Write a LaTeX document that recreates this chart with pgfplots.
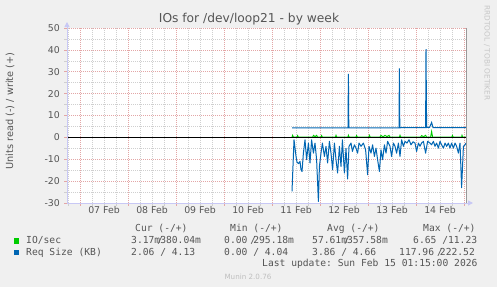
\documentclass[border=0pt]{standalone}
\usepackage{pgfplots}
\pgfplotsset{compat=1.18}
\usepackage{fontspec}
\setmainfont{DejaVu Sans}
\setmonofont{DejaVu Sans Mono}
\usetikzlibrary{arrows.meta}
\definecolor{bgc}{HTML}{F0F0F0}
\definecolor{gridred}{HTML}{E3A6A6}
\definecolor{gridgray}{HTML}{CFCFCF}
\definecolor{axblue}{HTML}{C8C8F5}
\definecolor{txt}{HTML}{555555}
\definecolor{iocol}{HTML}{00CC00}
\definecolor{reqcol}{HTML}{0066B3}

\pgfplotstableread{
h v
106.0 -24.7
107.0 -1.1
107.5 -4.8
108.0 -8.6
108.5 -11.3
109.3 -12.0
110.0 -11.0
110.5 -14.8
111.0 -15.6
111.7 -7.2
112.5 -1.1
113.3 -10.2
114.2 -2.6
115.0 -11.7
115.8 -1.1
116.7 -7.2
117.5 -2.6
118.3 -10.2
119.2 -29.3
119.7 -13.3
120.5 -7.2
121.2 -2.6
122.2 -8.7
123.0 -4.1
123.8 -11.7
124.7 -1.8
125.5 -7.2
126.3 -14.8
127.2 -2.6
128.0 -10.2
128.8 -16.3
129.7 -4.1
130.5 -13.3
131.2 -1.1
132.2 -16.3
133.0 -5.0
133.8 -19.0
134.5 -4.1
135.5 -2.6
136.2 -6.4
137.2 -3.4
138.0 -4.9
138.8 -7.2
139.5 -2.6
140.5 -4.1
141.7 -2.6
142.8 -5.7
143.8 -17.1
144.5 -4.1
145.5 -7.2
146.3 -3.4
147.2 -8.7
148.0 -4.9
148.8 -10.2
149.7 -15.6
150.5 -5.7
151.3 -10.2
152.2 -3.4
153.0 -7.2
153.8 -1.8
155.0 -4.1
155.8 -8.7
156.7 -2.6
157.5 -4.1
158.3 -7.2
159.2 -2.6
160.0 -8.7
160.8 -1.1
161.7 -4.1
162.5 -1.8
163.5 -2.6
164.5 -1.1
165.5 -3.4
166.5 -2.0
167.5 -2.6
168.3 -6.4
169.2 -2.6
170.0 -4.1
170.8 -2.6
171.7 -1.8
172.8 -7.2
173.8 -1.8
175.0 -2.6
175.8 -3.4
176.7 -1.8
177.5 -4.1
178.3 -2.6
179.2 -4.9
180.0 -1.8
180.8 -3.4
181.7 -4.9
182.5 -2.6
183.3 -4.1
184.2 -2.6
185.0 -4.9
185.8 -2.6
186.7 -4.9
187.5 -2.6
188.3 -4.1
189.2 -7.2
190.0 -2.6
190.8 -23.0
191.7 -4.1
192.5 -3.4
193.0 -2.6
}\reqread

\pgfplotstableread{
h v
106.0 4.4
134.0 4.4
134.2 29.0
134.4 4.4
159.5 4.4
159.7 31.6
159.9 4.4
172.8 4.5
173.0 40.3
173.3 4.5
174.8 4.6
175.8 6.8
176.5 4.5
193.0 4.5
}\reqwrite

\pgfplotstableread{
h v
106.0 0.1
106.3 0.9
106.7 0.1
108.5 0.1
108.8 0.8
109.2 0.1
116.3 0.1
116.8 0.9
117.5 0.3
118.3 0.9
118.8 0.1
120.5 0.1
120.8 0.8
121.2 0.1
127.7 0.1
128.0 0.9
128.4 0.1
134.0 0.1
134.2 0.9
134.6 0.1
138.0 0.1
138.3 0.8
138.7 0.1
144.4 0.1
144.7 0.9
145.1 0.1
150.0 0.1
150.5 0.9
151.5 0.2
152.5 0.9
153.5 0.3
154.5 0.9
155.0 0.1
159.7 0.1
160.0 0.9
160.4 0.1
170.3 0.1
170.8 0.8
171.8 0.3
172.8 0.9
173.3 0.1
175.3 0.1
175.8 2.6
176.3 0.1
186.0 0.1
186.2 0.8
186.6 0.1
190.8 0.1
191.0 0.9
191.4 0.1
193.0 0.1
}\iowrite

\begin{document}
\begin{tikzpicture}[x=1bp,y=1bp]
\fill[bgc] (-67,-84) rectangle (430,203);
\useasboundingbox (-67,-84) rectangle (430,203);
\begin{axis}[
  at={(0,0)}, anchor=south west,
  scale only axis, width=399bp, height=175bp,
  xmin=-6.5, xmax=193, ymin=-30, ymax=50,
  axis background/.style={fill=white},
  axis line style={draw=none},
  xtick={0,24,...,192}, xticklabels={},
  minor xtick={-6,6,12,18,30,36,42,54,60,66,78,84,90,102,108,114,126,132,138,150,156,162,174,180,186},
  extra x ticks={12,36,60,84,108,132,156,180},
  extra x tick labels={07 Feb,08 Feb,09 Feb,10 Feb,11 Feb,12 Feb,13 Feb,14 Feb},
  extra x tick style={grid=none, major tick length=0pt},
  ytick={-30,-20,...,50}, minor ytick={-25,-15,...,45},
  grid=both,
  major grid style={draw=gridred, dash pattern=on 1bp off 1bp, line width=0.6bp},
  minor grid style={draw=gridgray, dash pattern=on 1bp off 1bp, line width=0.6bp},
  major tick style={draw=gridred, line width=0.6bp},
  minor tick style={draw=gridgray, line width=0.6bp},
  tick align=outside, major tick length=2.5bp, minor tick length=2.5bp,
  xtick pos=bottom, ytick pos=left,
  tick label style={font=\fontsize{9.4}{10}\selectfont, text=txt},
  xticklabel style={anchor=base, yshift=-10.5bp},
  yticklabel style={anchor=east, inner sep=0pt, xshift=-4.5bp},
  /pgf/number format/assume math mode=true,
]
\addplot[iocol, line width=1bp] table[x=h,y=v] {\iowrite};
\addplot[black, line width=1bp] coordinates {(-6.5,0) (193,0)};
\addplot[reqcol, line width=1bp, line join=round] table[x=h,y=v] {\reqread};
\addplot[reqcol, line width=1bp] table[x=h,y=v] {\reqwrite};
\end{axis}
% axis lines
\draw[axblue, line width=1bp, -{Triangle[length=5bp,width=5bp]}] (0,0) -- (406,0);
\draw[axblue, line width=1bp, -{Triangle[length=5bp,width=5bp]}] (0,0) -- (0,181);
\draw[gray!80, line width=0.8bp] (399,0) -- (399,175);
% title and labels
\node[font=\fontsize{12.3}{14}\selectfont, text=txt] at (182,184) {IOs for /dev/loop21 - by week};
\node[rotate=90, font=\fontsize{9.8}{11}\selectfont, text=txt] at (-57,92) {Units read (-) / write (+)};
\node[rotate=-90, font=\fontsize{7.4}{8}\selectfont, text=black!22] at (420,150) {RRDTOOL / TOBI OETIKER};
% legend
\begin{scope}[every node/.style={inner sep=0pt, anchor=base west, font=\ttfamily\fontsize{9.7}{11}\selectfont, text=txt}]
\node at (68,-28.2) {Cur (-/+)};
\node at (163,-28.2) {Min (-/+)};
\node at (260,-28.2) {Avg (-/+)};
\node at (356,-28.2) {Max (-/+)};
\fill[iocol] (-53,-40.5) rectangle (-47.5,-35);
\node at (-41,-40.5) {IO/sec};
\node at (64,-40.5) {3.17m\makebox[0pt]{/}380.04m};
\node at (157,-40.5) {0.00 \makebox[0pt]{/}295.18m};
\node at (245,-40.5) {57.61m\makebox[0pt]{/}357.58m};
\node at (346,-40.5) {6.65 /11.23};
\fill[reqcol] (-53,-52.2) rectangle (-47.5,-46.7);
\node at (-41,-52.2) {Req Size (KB)};
\node at (64,-52.2) {2.06 / 4.13};
\node at (157,-52.2) {0.00 / 4.04};
\node at (245,-52.2) {3.86 / 4.66};
\node at (332,-52.2) {117.96 \makebox[0pt]{/}222.52};
\node at (195,-63.8) {Last update: Sun Feb 15 01:15:00 2026};
\end{scope}
\node[font=\fontsize{7.2}{8}\selectfont, text=black!25] at (181,-73.8) {Munin 2.0.76};
\end{tikzpicture}
\end{document}
